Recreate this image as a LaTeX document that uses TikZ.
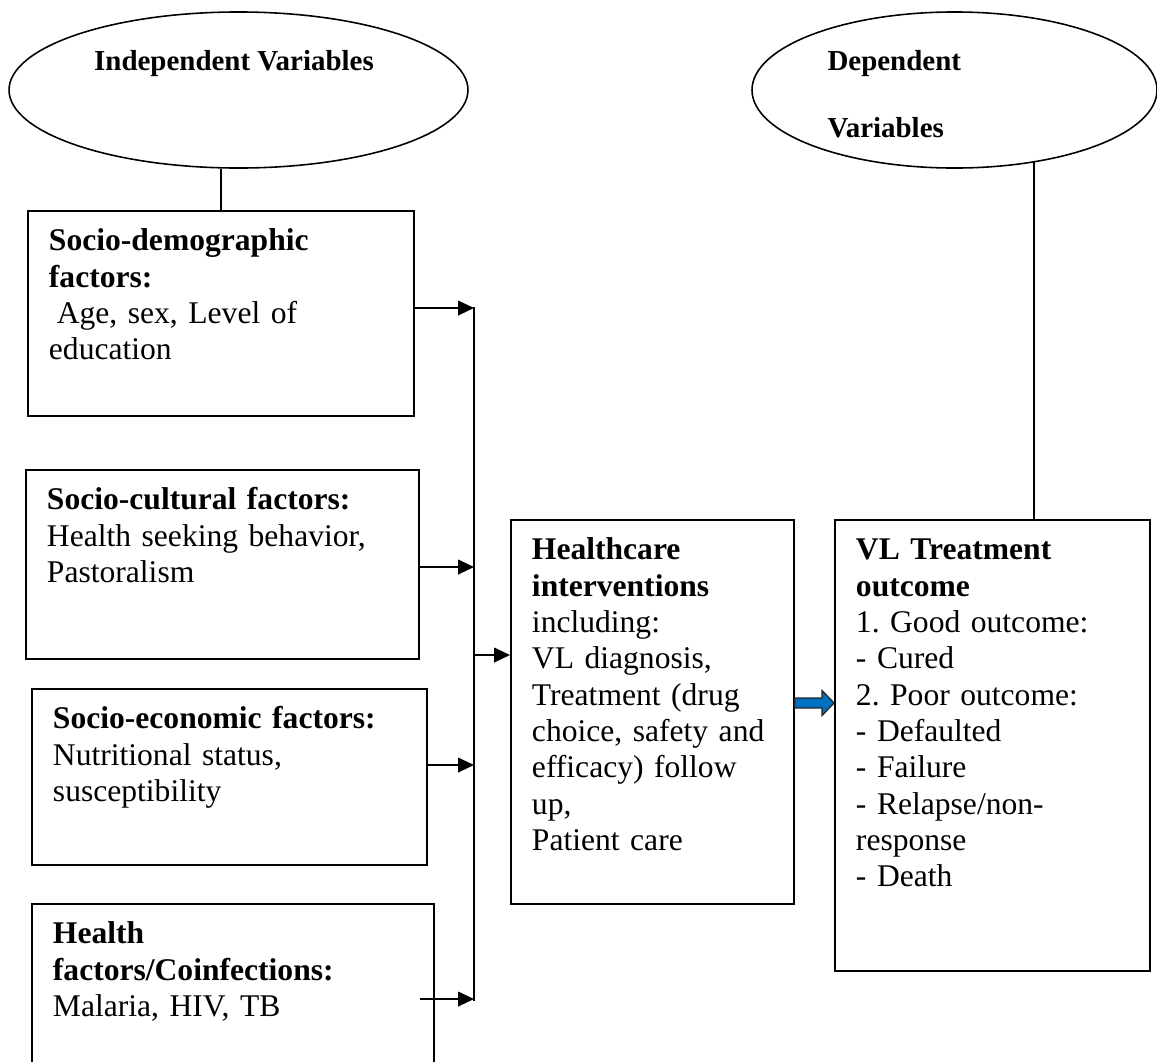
\documentclass[tikz,border=0pt]{standalone}
\usepackage{fontspec}
\setmainfont{Liberation Serif}
\usepackage{tikz}
\usetikzlibrary{shapes.geometric, arrows.meta, positioning, calc}
\tikzset{
  varoval/.style={ellipse,draw=black,line width=.6pt,inner sep=0pt},
  ovaltext/.style={font=\fontsize{11}{25.5}\selectfont\bfseries,inner sep=0pt},
  factor/.style={rectangle,draw=black,line width=.7pt,anchor=north west,align=left,
    inner xsep=8pt,inner ysep=6pt,text height=9.2pt,font=\fontsize{12}{13.8}\selectfont\frenchspacing},
  link/.style={line width=.6pt},
  feed/.style={line width=.75pt,-{Triangle[length=6pt,width=5.5pt]}},
  outflow/.style={fill=flowblue,draw=black!85,line width=.5pt},
}
\definecolor{flow_blue}{HTML}{0070C0}
\colorlet{flowblue}{flow_blue}

\begin{document}
\begin{tikzpicture}[x=0.38pt,y=-0.38pt]
  \useasboundingbox (0,0) rectangle (1157,1061);
  % variable ovals
  \node[varoval,minimum width=174.4pt,minimum height=59.3pt] (indep) at (238.5,90) {};
  \node[varoval,minimum width=153.9pt,minimum height=59.3pt] (dep) at (954.5,90) {};
  \node[ovaltext,anchor=base] (indeptxt) at (234,70) {Independent Variables};
  \node[ovaltext,anchor=base west,text width=80pt,align=left] (deptxt) at (827,70) {Dependent\\Variables};
  % factor boxes
  \node[factor,text width=130.7pt,text depth=56.7pt] (demo) at (27,210)
    {{\bfseries Socio-demographic\\factors:}\\\hspace*{3pt}Age, sex, Level of\\education};
  \node[factor,text width=133.3pt,text depth=50.6pt] (cult) at (25,469)
    {{\bfseries Socio-cultural factors:}\\Health seeking behavior,\\Pastoralism};
  \node[factor,text width=134.1pt,text depth=45.7pt] (econ) at (31,688)
    {{\bfseries Socio-economic factors:}\\Nutritional status,\\susceptibility};
  \node[factor,text width=136.8pt,text depth=46.1pt] (hlth) at (31,903)
    {{\bfseries Health\\factors/Coinfections:}\\Malaria, HIV, TB};
  \node[factor,text width=91.5pt,text depth=124.7pt] (hcare) at (510,519)
    {{\bfseries Healthcare\\interventions}\\including:\\VL diagnosis,\\Treatment (drug\\choice, safety and\\efficacy) follow\\up,\\Patient care};
  \node[factor,text width=103.7pt,text depth=150.2pt] (outc) at (834,519)
    {{\bfseries VL Treatment\\outcome}\\1. Good outcome:\\- Cured\\2. Poor outcome:\\- Defaulted\\- Failure\\- Relapse/non-\\response\\- Death};
  % links from the ovals
  \draw[link] (indep.south -| demo.north) -- (demo.north);
  \coordinate (vltop) at ($(outc.north west)+(200,0)$);
  \draw[link] (vltop |- dep.-42) -- (vltop);
  % collecting line and arrows
  \coordinate (busT) at (474,307);
  \coordinate (busB) at (474,1001);
  \draw[link,line width=.75pt] (busT) -- (busB);
  \draw[feed] (demo.east |- 0,308) -- (busT |- 0,308);
  \draw[feed] (cult.east |- 0,567) -- (busT |- 0,567);
  \draw[feed] (econ.east |- 0,765) -- (busT |- 0,765);
  \draw[feed] ($(hlth.east |- 0,999)+(-15,0)$) -- (busT |- 0,999);
  \draw[feed] (busT |- 0,655) -- (hcare.west |- 0,655);
  % block arrow to outcome
  \coordinate (flowS) at (hcare.east |- 0,703);
  \coordinate (flowT) at (outc.west |- 0,703);
  \filldraw[outflow] ($(flowS)+(0,-5)$) -- ($(flowT)+(-12,-5)$) -- ($(flowT)+(-12,-12.5)$) -- (flowT)
    -- ($(flowT)+(-12,12.5)$) -- ($(flowT)+(-12,5)$) -- ($(flowS)+(0,5)$) -- cycle;
\end{tikzpicture}
\end{document}
